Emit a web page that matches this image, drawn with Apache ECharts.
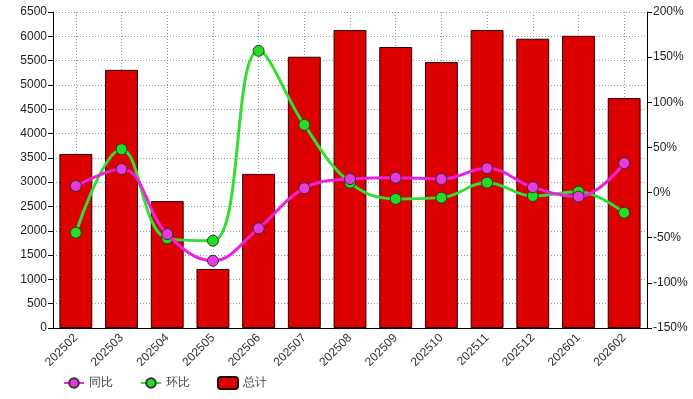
<!DOCTYPE html>
<html>
<head>
<meta charset="utf-8">
<script src="https://cdn.jsdelivr.net/npm/echarts@6/dist/echarts.min.js"></script>
<style>
  html, body { margin: 0; padding: 0; background: #fff; }
  #chart { width: 693px; height: 399px; }
</style>
</head>
<body>
<div id="chart"></div>
<script>
// 月份
const months = ['202502', '202503', '202504', '202505', '202506', '202507', '202508',
  '202509', '202510', '202511', '202512', '202601', '202602']
// 总计
const totals = [3580, 5310, 2610, 1215, 3170, 5580, 6130, 5780, 5470, 6130, 5950, 6010, 4730]
// 同比 (%)
const yoy = [7.3, 26, -46, -75.5, -39.6, 4.8, 15, 16.5, 15, 27, 5.9, -4.5, 32.5]
// 环比 (%)
const mom = [-44.4, 48, -50.7, -53.3, 157, 75, 11, -7, -5.6, 11, -3.8, 1, -22.3]
// 右轴刻度
const pctTicks = { min: -150, max: 200, interval: 50 }

const font = '"Liberation Sans", Arial, sans-serif'
const dotLine = { color: '#999', type: [1, 2], width: 1 }

const chart = echarts.init(document.getElementById('chart'))
chart.setOption({
  animation: false,
  textStyle: { fontFamily: font },
  grid: { left: 53, right: 46, top: 12, bottom: 71 },
  legend: {
    data: ['同比', '环比', '总计'],
    left: 58,
    bottom: 4,
    itemGap: 27,
    itemWidth: 20,
    itemHeight: 12,
    textStyle: { fontSize: 12, color: '#444', fontFamily: font }
  },
  xAxis: {
    type: 'category',
    data: months,
    axisLine: { lineStyle: { color: '#000', width: 1 } },
    axisTick: { alignWithLabel: true, length: 4, lineStyle: { color: '#000' } },
    axisLabel: { rotate: 45, fontSize: 12, color: '#333', margin: 8, interval: 0 },
    splitLine: { show: false }
  },
  yAxis: [
    {
      type: 'value',
      min: 0,
      max: 6500,
      interval: 500,
      axisLine: { show: true, lineStyle: { color: '#000' } },
      axisTick: { show: true, length: 5, lineStyle: { color: '#000' } },
      axisLabel: { fontSize: 12, color: '#222', margin: 6, formatter: v => String(v) },
      splitLine: { show: true, lineStyle: dotLine }
    },
    {
      type: 'value',
      min: pctTicks.min,
      max: pctTicks.max,
      interval: pctTicks.interval,
      axisLine: { show: true, lineStyle: { color: '#000' } },
      axisTick: { show: true, length: 5, lineStyle: { color: '#000' } },
      axisLabel: { fontSize: 12, color: '#222', margin: 6, formatter: '{value}%' },
      splitLine: { show: false }
    }
  ],
  series: [
    {
      // 竖向网格线，对齐每个月份中心
      name: 'grid',
      type: 'line',
      data: [],
      z: 1,
      silent: true,
      markLine: {
        z: 1,
        silent: true,
        symbol: 'none',
        label: { show: false },
        lineStyle: dotLine,
        data: months.map(m => ({ xAxis: m }))
      }
    },
    {
      name: '总计',
      type: 'bar',
      data: totals,
      barWidth: '72%',
      z: 2,
      itemStyle: { color: '#dd0000', borderColor: '#2a0000', borderWidth: 1 }
    },
    {
      name: '同比',
      type: 'line',
      yAxisIndex: 1,
      data: yoy,
      smooth: 0.4,
      symbol: 'circle',
      symbolSize: 11,
      z: 4,
      lineStyle: { color: '#ee22dd', width: 3 },
      itemStyle: { color: '#e63be0', borderColor: '#333', borderWidth: 1 }
    },
    {
      name: '环比',
      type: 'line',
      yAxisIndex: 1,
      data: mom,
      smooth: 0.4,
      symbol: 'circle',
      symbolSize: 11,
      z: 3,
      lineStyle: { color: '#33dd33', width: 3 },
      itemStyle: { color: '#22dd22', borderColor: '#333', borderWidth: 1 }
    }
  ]
})
</script>
</body>
</html>
